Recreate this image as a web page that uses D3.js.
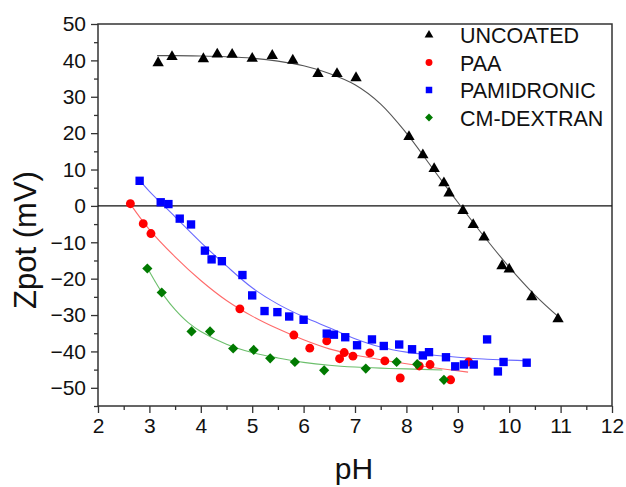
<!DOCTYPE html>
<meta charset="utf-8">
<style>
body { margin: 0; background: white; }
text { font-family: "Liberation Sans", Arial, sans-serif; fill: #111; }
.axis path { display: none; }
.axis line { stroke: #333; stroke-width: 1.3px; }
</style>
<body>
<script src="https://d3js.org/d3.v7.min.js"></script>
<script>

const width = 626
const height = 487

// measured points (pH, zeta potential in mV)
const phUncoated = [3.17, 3.44, 4.05, 4.32, 4.61, 5.0, 5.39, 5.79, 6.28, 6.65, 7.02, 8.05, 8.32, 8.54, 8.73, 8.83, 9.1, 9.3, 9.51, 9.86, 10.0, 10.44, 10.95]
const zUncoated = [39.3, 41, 40.4, 41.7, 41.6, 40.5, 41.3, 40.0, 36.3, 36.3, 35.2, 19, 14, 10.2, 6.3, 3.5, -1.3, -5.2, -8.6, -16.5, -17.4, -25, -31.1]

const phPaa = [2.63, 2.88, 3.03, 4.76, 5.81, 6.12, 6.45, 6.79, 6.7, 6.96, 7.29, 7.58, 7.88, 8.25, 8.46, 8.86, 9.21]
const zPaa = [0.6, -4.9, -7.6, -28.3, -35.5, -39.1, -37.1, -40.3, -42, -41.3, -40.4, -42.6, -47.3, -44, -43.6, -47.8, -42.9]

const phPam = [2.81, 3.22, 3.37, 3.59, 3.81, 4.08, 4.21, 4.41, 4.81, 5.0, 5.24, 5.49, 5.72, 6.0, 6.45, 6.59, 6.81, 7.04, 7.33, 7.56, 7.86, 8.11, 8.32, 8.44, 8.77, 8.95, 9.12, 9.31, 9.57, 9.78, 9.89, 10.34]
const zPam = [6.9, 1.0, 0.5, -3.5, -5.1, -12.3, -14.7, -15.2, -19, -24.6, -28.9, -29.2, -30.4, -31.3, -35.1, -35.4, -36.1, -38.3, -36.7, -38.5, -38.1, -39.4, -41.1, -40.2, -41.6, -44.1, -43.6, -43.6, -36.7, -45.5, -42.9, -43.1]

const phDex = [2.96, 3.24, 3.82, 4.18, 4.63, 5.03, 5.35, 5.83, 6.4, 7.21, 7.81, 8.21, 8.73]
const zDex = [-17.2, -23.8, -34.5, -34.5, -39.2, -39.6, -41.9, -42.9, -45.2, -44.7, -42.9, -43.5, -47.8]

// fitted curves
const fitUncoatedX = [3.15, 3.5, 4, 4.5, 5, 5.5, 6, 6.5, 7, 7.5, 8, 8.5, 9, 9.5, 10, 10.5, 11]
const fitUncoatedY = [41.3, 41.3, 41.2, 41.0, 40.6, 39.8, 38.5, 36.4, 33.3, 28, 20, 10.5, 1, -8.2, -16.8, -24.5, -31]
const fitPaaX = [2.63, 3.0, 3.5, 4.0, 4.5, 5.0, 5.5, 6.0, 6.5, 7.0, 7.5, 8.0, 8.5, 9.2]
const fitPaaY = [0.5, -6.5, -14, -20.5, -26, -30.3, -33.8, -36.8, -39.3, -41.0, -42.3, -43.4, -44.4, -45.7]
const fitPamX = [2.81, 3.0, 3.5, 4.0, 4.5, 5.0, 5.5, 6.0, 6.5, 7.0, 7.5, 8.0, 8.5, 9.0, 9.5, 10.37]
const fitPamY = [7, 4, -3, -10, -16.5, -22.5, -27, -30.5, -33.5, -36.5, -38.8, -40.2, -41, -41.6, -42.1, -42.6]
const fitDexX = [2.96, 3.1, 3.3, 3.5, 3.75, 4.0, 4.5, 5.0, 5.5, 6.0, 6.5, 7.0, 7.5, 8.0, 8.7]
const fitDexY = [-17, -20.5, -25, -28.5, -32, -34.5, -38, -40.3, -41.8, -43, -43.8, -44.3, -44.6, -44.8, -45.1]

const seriesNames = ['UNCOATED', 'PAA', 'PAMIDRONIC', 'CM-DEXTRAN']
const xTicks = [2, 3, 4, 5, 6, 7, 8, 9, 10, 11, 12]
const yTicks = [-50, -40, -30, -20, -10, 0, 10, 20, 30, 40, 50]

const series = [
	{ name: seriesNames[0], x: phUncoated, y: zUncoated, fx: fitUncoatedX, fy: fitUncoatedY, color: '#000', line: '#555', symbol: d3.symbolTriangle, size: 56, rot: 0 },
	{ name: seriesNames[1], x: phPaa, y: zPaa, fx: fitPaaX, fy: fitPaaY, color: '#ff0000', line: '#ff6a6a', symbol: d3.symbolCircle, size: 62, rot: 0 },
	{ name: seriesNames[2], x: phPam, y: zPam, fx: fitPamX, fy: fitPamY, color: '#0000ff', line: '#6a6aff', symbol: d3.symbolSquare, size: 70, rot: 0 },
	{ name: seriesNames[3], x: phDex, y: zDex, fx: fitDexX, fy: fitDexY, color: '#007a00', line: '#6cbf6c', symbol: d3.symbolSquare, size: 52, rot: 45 }
]

const svg = d3.select('body')
	.append('svg')
	.attr('width', width)
	.attr('height', height)

const x = d3.scaleLinear().domain([2, 12]).range([98, 612])
const y = d3.scaleLinear().domain([-55, 50]).range([406, 24])

// minor ticks
svg.append('g')
	.attr('class', 'axis')
	.attr('transform', 'translate(0,406)')
	.call(d3.axisBottom(x).tickValues(d3.range(2.5, 12, 1)).tickSize(4).tickFormat(''))
svg.append('g')
	.attr('class', 'axis')
	.attr('transform', 'translate(98,0)')
	.call(d3.axisLeft(y).tickValues(d3.range(-55, 50, 10)).tickSize(4).tickFormat(''))

// major ticks + labels
const xAxis = svg.append('g')
	.attr('class', 'axis')
	.attr('transform', 'translate(0,406)')
	.call(d3.axisBottom(x).tickValues(xTicks).tickSize(7).tickPadding(5))
xAxis.selectAll('text').style('font-size', '21px').attr('fill', '#111')

const yAxis = svg.append('g')
	.attr('class', 'axis')
	.attr('transform', 'translate(98,0)')
	.call(d3.axisLeft(y).tickValues(yTicks).tickSize(7).tickPadding(5))
yAxis.selectAll('text').style('font-size', '21px').attr('fill', '#111')

// frame
svg.append('rect')
	.attr('x', 98).attr('y', 24)
	.attr('width', 612 - 98).attr('height', 406 - 24)
	.attr('fill', 'none')
	.attr('stroke', '#333')
	.attr('stroke-width', 1.5)

// zero line
svg.append('line')
	.attr('x1', x(2)).attr('x2', x(12))
	.attr('y1', y(0)).attr('y2', y(0))
	.attr('stroke', '#111')
	.attr('stroke-width', 1.3)

// fit curves
const line = d3.line()
	.x(d => x(d[0]))
	.y(d => y(d[1]))
	.curve(d3.curveCatmullRom)

series.forEach(s => {
	svg.append('path')
		.attr('d', line(s.fx.map((v, i) => [v, s.fy[i]])))
		.attr('fill', 'none')
		.attr('stroke', s.line)
		.attr('stroke-width', 1.1)
})

// markers
series.forEach(s => {
	svg.append('g')
		.selectAll('path')
		.data(s.x.map((v, i) => [v, s.y[i]]))
		.enter()
		.append('path')
		.attr('d', d3.symbol().type(s.symbol).size(s.size))
		.attr('transform', d => `translate(${x(d[0])},${y(d[1])}) rotate(${s.rot})`)
		.attr('fill', s.color)
})

// legend
const legend = svg.append('g')
series.forEach((s, i) => {
	const ly = 35 + i * 27.5
	legend.append('path')
		.attr('d', d3.symbol().type(s.symbol).size(s.size * 0.6))
		.attr('transform', `translate(429,${ly}) rotate(${s.rot})`)
		.attr('fill', s.color)
	legend.append('text')
		.attr('x', 460)
		.attr('y', ly + 8)
		.style('font-size', '21.5px')
		.text(s.name)
})

// axis titles
svg.append('text')
	.attr('x', 354)
	.attr('y', 479)
	.attr('text-anchor', 'middle')
	.style('font-size', '30px')
	.text('pH')

svg.append('text')
	.attr('transform', 'translate(36,240) rotate(-90)')
	.attr('text-anchor', 'middle')
	.style('font-size', '31px')
	.text('Zpot (mV)')

</script>
</body>
</html>
